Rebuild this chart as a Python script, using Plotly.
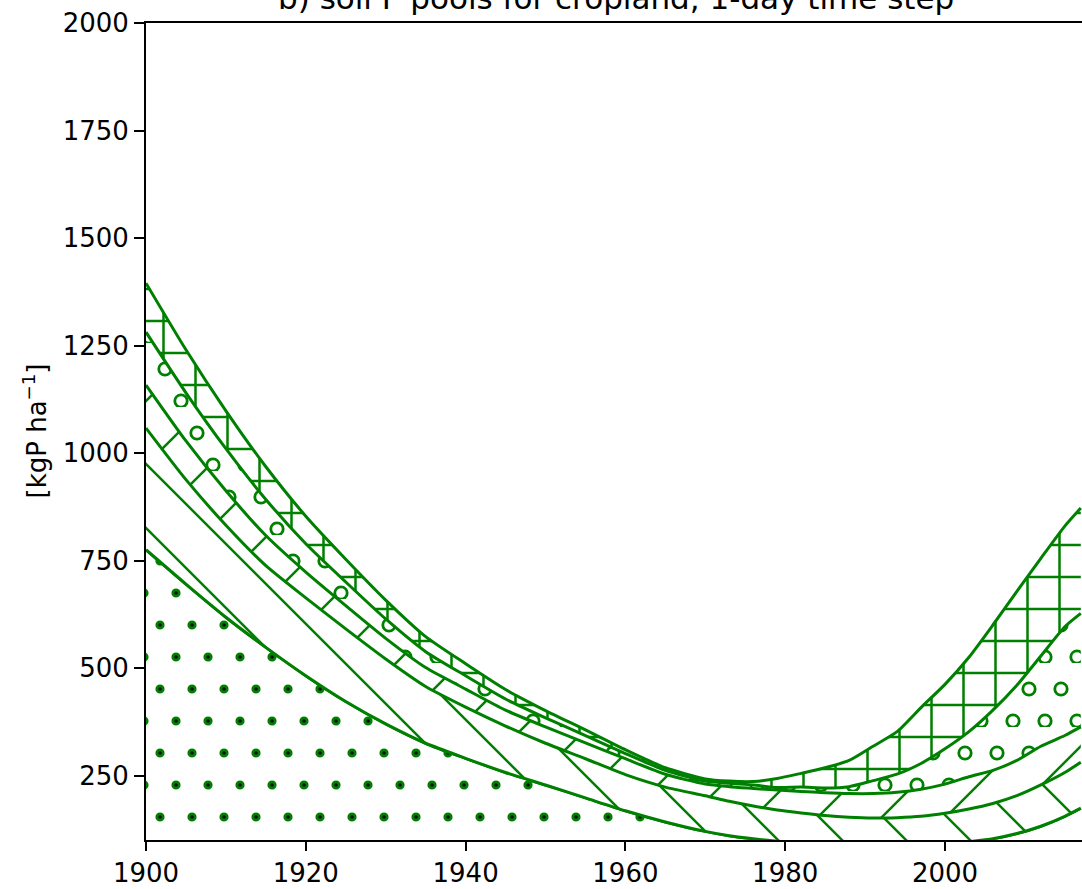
import plotly.graph_objects as go

# ---------------- data ----------------
years = [1900, 1905, 1910, 1915, 1920, 1925, 1930, 1935, 1940, 1945, 1950, 1955,
         1960, 1965, 1970, 1973, 1976, 1979, 1982, 1985, 1988, 1991, 1994, 1997,
         2000, 2003, 2006, 2009, 2012, 2015, 2017]

# cumulative tops of the stacked pools (kgP/ha)
top_pool1 = [775, 695, 618, 548, 482, 422, 370, 325, 290, 257, 228, 198,
             168, 142, 120, 110, 103, 97, 92, 88, 85, 84, 85, 87,
             90, 96, 103, 115, 132, 155, 174]          # dotted pool
top_pool2 = [1058, 938, 832, 738, 663, 591, 521, 457, 409, 365, 325, 289,
             252, 223, 203, 190, 179, 170, 163, 157, 153, 151, 152, 155,
             162, 172, 185, 203, 228, 257, 281]        # "\" pool
top_pool3 = [1158, 1028, 912, 808, 723, 645, 569, 501, 451, 402, 363, 326,
             289, 253, 230, 224, 220, 216, 213, 210, 208, 208, 211, 218,
             230, 247, 262, 285, 318, 343, 363]        # "/" pool
top_pool4 = [1281, 1140, 1010, 892, 789, 700, 614, 538, 482, 428, 384, 343,
             301, 262, 237, 232, 228, 222, 223, 221, 224, 238, 253, 278,
             312, 352, 402, 460, 528, 596, 627]        # "o" pool
top_pool5 = [1395, 1240, 1098, 968, 853, 753, 658, 573, 510, 450, 401, 356,
             310, 268, 242, 237, 236, 243, 255, 268, 285, 318, 352, 408,
             462, 525, 600, 678, 755, 830, 872]        # "+" pool (total)

x_ticks = [1900, 1920, 1940, 1960, 1980, 2000]
y_ticks = [250, 500, 750, 1000, 1250, 1500, 1750, 2000]

title_text = "b) soil P pools for cropland, 1-day time step"
ylabel_text = "[kgP ha<sup>\u22121</sup>]"

GREEN = "#008000"
FONT = "DejaVu Sans"
HATCH_W = 2.5


# ---------------- hatch pattern paths (tile coordinates) ----------------
def disc(cx, cy, r):
    return (f"M{cx - r},{cy}a{r},{r} 0 1,0 {2 * r},0"
            f"a{r},{r} 0 1,0 {-2 * r},0Z")


def ring(cx, cy, R, r):
    outer = (f"M{cx - R},{cy}a{R},{R} 0 1,0 {2 * R},0"
             f"a{R},{R} 0 1,0 {-2 * R},0Z")
    inner = (f"M{cx - r},{cy}a{r},{r} 0 1,1 {2 * r},0"
             f"a{r},{r} 0 1,1 {-2 * r},0Z")
    return outer + inner


def band_back(c, w=HATCH_W):
    # line y = x + c  ("\" direction on screen)
    h = w / 2 * 2 ** 0.5
    x0, x1 = -4, 68
    return (f"M{x0},{x0 + c - h}L{x1},{x1 + c - h}"
            f"L{x1},{x1 + c + h}L{x0},{x0 + c + h}Z")


def band_fwd(c, w=HATCH_W):
    # line y = -x + c  ("/" direction on screen)
    h = w / 2 * 2 ** 0.5
    x0, x1 = -4, 68
    return (f"M{x0},{c - x0 - h}L{x1},{c - x1 - h}"
            f"L{x1},{c - x1 + h}L{x0},{c - x0 + h}Z")


DOT_CENTERS = [(14, 26), (46, 26), (-2, 58), (30, 58), (62, 58)]
RING_CENTERS = [(19, 26), (51, 26), (3, 58), (35, 58), (67, 58)]

dot_path = "".join(disc(cx, cy, 4.6) for cx, cy in DOT_CENTERS)
dot_core_path = "".join(disc(cx, cy, 1.7) for cx, cy in DOT_CENTERS)
ring_path = "".join(ring(cx, cy, 7.6, 4.8) for cx, cy in RING_CENTERS)
back_path = band_back(57) + band_back(-7)
fwd_path = band_fwd(58) + band_fwd(122)
vx, hy, hw = 17.5, 10, HATCH_W / 2
plus_path = (f"M{vx - hw},0H{vx + hw}V32H{vx - hw}Z"
             f"M0,{hy - hw}H{vx - hw}V{hy + hw}H0Z"
             f"M{vx + hw},{hy - hw}H32V{hy + hw}H{vx + hw}Z")


def pattern(path, size=64, fg=GREEN, bg="white"):
    return dict(path=path, size=size, fgcolor=fg, bgcolor=bg,
                fgopacity=1, fillmode="replace")


line_style = dict(color=GREEN, width=3, shape="spline", smoothing=0.6)

fig = go.Figure()

fig.add_trace(go.Scatter(
    x=years, y=top_pool1, mode="lines", line=line_style,
    fill="tozeroy", fillcolor="white",
    fillpattern=pattern(dot_path)))
# black cores of the dots, drawn on a transparent background
fig.add_trace(go.Scatter(
    x=years, y=top_pool1, mode="lines", line=line_style,
    fill="tozeroy", fillcolor="rgba(255,255,255,0.01)",
    fillpattern=pattern(dot_core_path, fg="black", bg="rgba(0,0,0,0)")))
fig.add_trace(go.Scatter(
    x=years, y=top_pool2, mode="lines", line=line_style,
    fill="tonexty", fillcolor="white",
    fillpattern=pattern(back_path)))
fig.add_trace(go.Scatter(
    x=years, y=top_pool3, mode="lines", line=line_style,
    fill="tonexty", fillcolor="white",
    fillpattern=pattern(fwd_path)))
fig.add_trace(go.Scatter(
    x=years, y=top_pool4, mode="lines", line=line_style,
    fill="tonexty", fillcolor="white",
    fillpattern=pattern(ring_path)))
fig.add_trace(go.Scatter(
    x=years, y=top_pool5, mode="lines", line=line_style,
    fill="tonexty", fillcolor="white",
    fillpattern=pattern(plus_path, size=32)))

axis_common = dict(
    showgrid=False, zeroline=False, showline=True, linecolor="black",
    linewidth=2, ticks="outside", tickcolor="black", tickwidth=2,
    tickfont=dict(family=FONT, size=26, color="black"))

fig.update_xaxes(range=[1900, 2017.15], tickvals=x_ticks, ticklen=9,
                 mirror=True, **axis_common)
fig.update_yaxes(range=[100, 2000], tickvals=y_ticks, ticklen=10,
                 **axis_common)

fig.update_layout(
    width=1082, height=889,
    margin=dict(l=146, r=0, t=23, b=49),
    plot_bgcolor="white", paper_bgcolor="white",
    showlegend=False,
    font=dict(family=FONT, size=26, color="black"),
    annotations=[
        dict(text=title_text, xref="paper", yref="paper", x=0.502, y=1,
             xanchor="center", yanchor="bottom", yshift=5, showarrow=False,
             font=dict(family=FONT, size=31, color="black")),
        dict(text=ylabel_text, xref="paper", yref="paper",
             x=(35 - 146) / 936, y=0.5, xanchor="center", yanchor="middle",
             textangle=-90, showarrow=False,
             font=dict(family=FONT, size=26, color="black")),
    ],
)

fig.write_html("out.html")
